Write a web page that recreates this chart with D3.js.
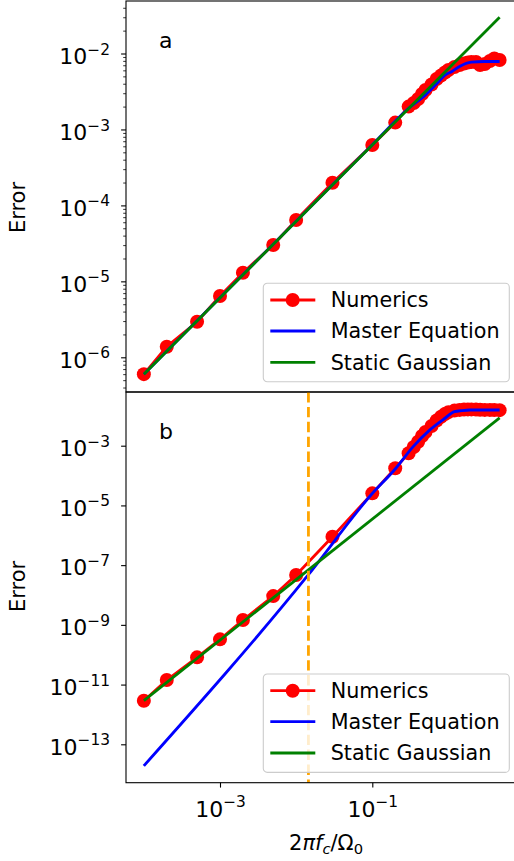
<!DOCTYPE html>
<html>
<head>
<meta charset="utf-8">
<script src="https://cdn.jsdelivr.net/npm/d3@7"></script>
<style>
html,body{margin:0;padding:0;background:#fff;}
svg{display:block;}
text{font-family:"DejaVu Sans",sans-serif;fill:#000;}
</style>
</head>
<body>
<svg id="chart" width="514" height="861"></svg>
<script>
// ---------------- data ----------------
const numX = [1e-4,2e-4,5e-4,1e-3,2e-3,5e-3,1e-2,3e-2,0.1,0.2,0.3,0.35,0.4,0.45,0.5,0.6,0.7,0.8,0.9,1.0,1.2,1.4,1.6,1.8,2.0,2.3,2.6,3.0,3.5,4.0,4.7];
const numTop = [6.0e-7,1.38e-6,2.94e-6,6.41e-6,1.30e-5,3.01e-5,6.43e-5,1.99e-4,6.24e-4,1.23e-3,2.0e-3,2.23e-3,2.52e-3,2.93e-3,3.31e-3,3.91e-3,4.62e-3,5.13e-3,5.62e-3,6.07e-3,6.64e-3,7.06e-3,7.38e-3,7.61e-3,7.73e-3,7.73e-3,7.06e-3,7.27e-3,7.97e-3,8.59e-3,8.21e-3];
const numBot = [2.86e-12,1.42e-11,8.15e-11,3.27e-10,1.45e-9,9.2e-9,4.66e-8,8.9e-7,2.54e-5,1.75e-4,5.56e-4,9.0e-4,1.36e-3,2.11e-3,2.88e-3,4.57e-3,6.98e-3,9.3e-3,1.15e-2,1.33e-2,1.5e-2,1.58e-2,1.62e-2,1.64e-2,1.64e-2,1.62e-2,1.6e-2,1.58e-2,1.58e-2,1.57e-2,1.55e-2];

const masterTopX = [1e-4,0.1,0.3,0.5,0.7,0.9,1.1,1.4,2.0,3.0,4.7];
const masterTopY = [6.0e-7,6.3e-4,1.9e-3,2.85e-3,4.0e-3,5.2e-3,5.75e-3,6.75e-3,7.7e-3,7.85e-3,7.85e-3];
const masterBotX = [1e-4,1.44e-2,0.1,0.2,0.344,0.57,0.9,1.2,1.5,1.9,3.0,4.7];
const masterBotY = [1.9e-14,4.7e-8,2.5e-5,1.66e-4,9.3e-4,3.4e-3,8.3e-3,1.38e-2,1.5e-2,1.57e-2,1.57e-2,1.57e-2];

const staticX = [1e-4,4.7];
const staticTop = [6.0e-7,3.0e-2];
const staticBot = [2.9e-12,8.5e-3];

const cutoffX = 1.45e-2;

const xTicks = [1e-3,1e-1];
const yTopTicks = [1e-6,1e-5,1e-4,1e-3,1e-2];
const yBotTicks = [1e-13,1e-11,1e-9,1e-7,1e-5,1e-3];
const seriesNames = ["Numerics","Master Equation","Static Gaussian"];
const panelLabels = ["a","b"];

// ---------------- layout ----------------
const L = 126, R = 517;
const topP = {y0:1, y1:392};
const botP = {y0:392, y1:782.7};
const colors = {num:"#ff0000", master:"#0000ff", stat:"#008000", cut:"#ffa500"};
const LW = 2.8, MR = 7;

const x = d3.scaleLog().domain([1e-3,1e-1]).range([220,372.3]);
x.domain([x.invert(L), x.invert(R)]).range([L,R]);
const yT = d3.scaleLog().domain([1e-2,1e-6]).range([53.5,357.3]);
yT.domain([yT.invert(topP.y0), yT.invert(topP.y1)]).range([topP.y0, topP.y1]);
const yB = d3.scaleLog().domain([1e-3,1e-13]).range([445.7,744.3]);
yB.domain([yB.invert(botP.y0), yB.invert(botP.y1)]).range([botP.y0, botP.y1]);

const svg = d3.select("#chart");
const defs = svg.append("defs");

function expLabel(sel, v, size){
  const e = Math.round(Math.log10(v));
  sel.append("tspan").text("10");
  sel.append("tspan").attr("dy", -0.42*size).style("font-size", (0.7*size)+"px").text("\u2212"+Math.abs(e));
}

function panel(P, y, numY, mX, mY, sY, majors, withMinor, label, idx, cutoff){
  const clipId = "clip"+idx;
  defs.append("clipPath").attr("id",clipId).append("rect")
    .attr("x",L).attr("y",P.y0).attr("width",R-L).attr("height",P.y1-P.y0);
  const g = svg.append("g");
  const plot = g.append("g").attr("clip-path","url(#"+clipId+")");
  const line = d3.line().x(d=>x(d[0])).y(d=>y(d[1]));
  // numerics
  const numData = numX.map((v,i)=>[v,numY[i]]);
  plot.append("path").datum(numData).attr("d",line).attr("fill","none")
    .attr("stroke",colors.num).attr("stroke-width",LW).attr("stroke-linejoin","round");
  plot.selectAll("circle.num").data(numData).enter().append("circle")
    .attr("cx",d=>x(d[0])).attr("cy",d=>y(d[1])).attr("r",MR).attr("fill",colors.num);
  // master
  plot.append("path").datum(mX.map((v,i)=>[v,mY[i]])).attr("d",d3.line().curve(d3.curveMonotoneX).x(d=>x(d[0])).y(d=>y(d[1])))
    .attr("fill","none").attr("stroke",colors.master).attr("stroke-width",LW);
  // static
  plot.append("path").datum(staticX.map((v,i)=>[v,sY[i]])).attr("d",line)
    .attr("fill","none").attr("stroke",colors.stat).attr("stroke-width",LW);
  if(cutoff){
    plot.append("line").attr("x1",x(cutoffX)).attr("x2",x(cutoffX)).attr("y1",P.y0).attr("y2",P.y1)
      .attr("stroke",colors.cut).attr("stroke-width",LW).attr("stroke-dasharray","10.4,4.5");
  }
  // minor ticks
  if(withMinor){
    const d = y.domain();
    const lo = Math.min(d[0],d[1]), hi = Math.max(d[0],d[1]);
    const minors = [];
    for(let e=Math.floor(Math.log10(lo)); e<=Math.ceil(Math.log10(hi)); e++){
      for(let m=2;m<=9;m++){ const v=m*Math.pow(10,e); if(v>=lo && v<=hi) minors.push(v); }
    }
    const ma = g.append("g").attr("transform","translate("+L+",0)")
      .call(d3.axisLeft(y).tickValues(minors).tickSize(2.8).tickFormat(""));
    ma.select(".domain").remove();
    ma.selectAll("line").attr("stroke","#000").attr("stroke-width",0.8);
  }
  const ax = g.append("g").attr("transform","translate("+L+",0)")
    .call(d3.axisLeft(y).tickValues(majors).tickSize(4.9).tickFormat(""));
  ax.select(".domain").remove();
  ax.selectAll("line").attr("stroke","#000").attr("stroke-width",1.1);
  ax.selectAll(".tick").each(function(v){
    const t = d3.select(this).append("text").attr("x",-16).attr("y",9.8)
      .attr("text-anchor","end").style("font-size","22px").attr("fill","#000");
    expLabel(t, v, 22);
  });
  // frame
  g.append("rect").attr("x",L).attr("y",P.y0).attr("width",R-L).attr("height",P.y1-P.y0)
    .attr("fill","none").attr("stroke","#000").attr("stroke-width",1.1);
  // panel label
  g.append("text").attr("x",159).attr("y",P.y0+47).style("font-size","22px").text(label);
  // y label
  g.append("text").attr("transform","translate(25,"+((P.y0+P.y1)/2+ (idx===0?11:-1))+") rotate(-90)")
    .attr("text-anchor","middle").style("font-size","21px").text("Error");
  // legend
  const lg = g.append("g").attr("transform","translate(263.3,"+(P.y1-108.7)+")");
  lg.append("rect").attr("width",246).attr("height",98.4).attr("rx",4).attr("ry",4)
    .attr("fill","#fff").attr("fill-opacity",0.8).attr("stroke","#cccccc").attr("stroke-width",1.1);
  const rows = [16.7,47.7,79];
  const lcol = [colors.num, colors.master, colors.stat];
  seriesNames.forEach((n,i)=>{
    lg.append("line").attr("x1",7).attr("x2",52).attr("y1",rows[i]).attr("y2",rows[i])
      .attr("stroke",lcol[i]).attr("stroke-width",LW);
    if(i===0) lg.append("circle").attr("cx",29.4).attr("cy",rows[i]).attr("r",MR).attr("fill",colors.num);
    lg.append("text").attr("x",67.4).attr("y",rows[i]+7.4).style("font-size","20.7px").text(n);
  });
  return g;
}

panel(topP, yT, numTop, masterTopX, masterTopY, staticTop, yTopTicks, true, panelLabels[0], 0, false);
panel(botP, yB, numBot, masterBotX, masterBotY, staticBot, yBotTicks, false, panelLabels[1], 1, true);

// x axis (bottom panel)
const xa = svg.append("g").attr("transform","translate(0,"+botP.y1+")")
  .call(d3.axisBottom(x).tickValues(xTicks).tickSize(4.9).tickFormat(""));
xa.select(".domain").remove();
xa.selectAll("line").attr("stroke","#000").attr("stroke-width",1.1);
xa.selectAll(".tick").each(function(v){
  const t = d3.select(this).append("text").attr("x",0).attr("y",34)
    .attr("text-anchor","middle").style("font-size","22px").attr("fill","#000");
  expLabel(t, v, 22);
});

// x label
const xl = svg.append("text").attr("x",326).attr("y",850).attr("text-anchor","middle").style("font-size","21px");
xl.append("tspan").text("2");
xl.append("tspan").style("font-style","italic").text("\u03c0f");
xl.append("tspan").style("font-style","italic").style("font-size","14.7px").attr("dy",4).text("c");
xl.append("tspan").attr("dy",-4).text("/\u03a9");
xl.append("tspan").style("font-size","14.7px").attr("dy",4).text("0");
</script>
</body>
</html>
